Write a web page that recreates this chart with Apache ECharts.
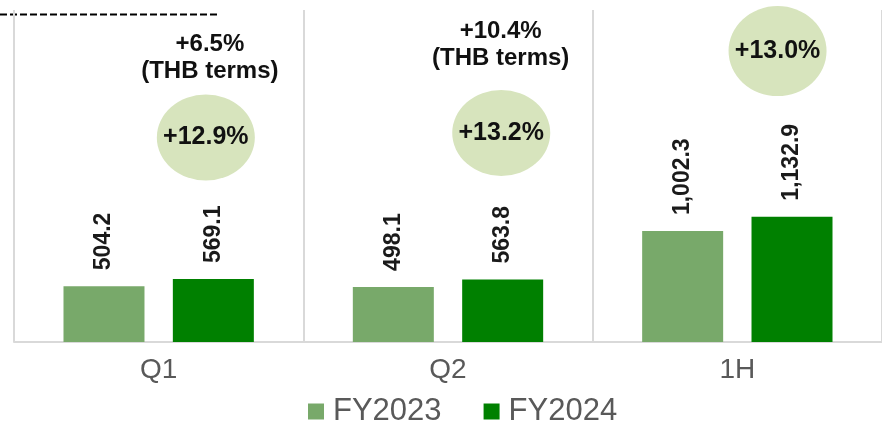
<!DOCTYPE html>
<html>
<head>
<meta charset="utf-8">
<script src="https://cdn.jsdelivr.net/npm/echarts@6/dist/echarts.min.js"></script>
<style>
  html, body { margin: 0; padding: 0; background: #fff; }
  #chart { width: 882px; height: 422px; }
</style>
</head>
<body>
<div id="chart"></div>
<script>
// categories and series
const categories = ["Q1", "Q2", "1H"];
const fy2023 = [504.2, 498.1, 1002.3];
const fy2024 = [569.1, 563.8, 1132.9];

// growth bubbles (x in category units 0..3, y in value units)
const bubbleX = [0.663, 1.684, 2.639];
const bubbleY = [1848, 1889, 2629];
const bubbleText = ["+12.9%", "+13.2%", "+13.0%"];

// THB notes above the bubbles
const noteX = [0.677, 1.682];
const noteY = [2571, 2684];
const noteText = ["+6.5%\n(THB terms)", "+10.4%\n(THB terms)"];

var dom = document.getElementById("chart");
var myChart = echarts.init(dom, null, { renderer: "canvas" });

const font = "'Liberation Sans', Arial, sans-serif";

function fmt(v) {
  return v.toLocaleString("en-US", { minimumFractionDigits: 1, maximumFractionDigits: 1 });
}

const barLabel = {
  show: true,
  position: "top",
  distance: 16,
  rotate: 90,
  align: "left",
  verticalAlign: "middle",
  fontFamily: font,
  fontSize: 23,
  fontWeight: "bold",
  color: "#1a1a1a",
  formatter: function (p) { return fmt(p.value); }
};

var option = {
  animation: false,
  textStyle: { fontFamily: font },
  grid: { left: 14, right: -5, top: 10, bottom: 80 },
  legend: {
    data: ["FY2023", "FY2024"],
    left: 303,
    top: 391,
    icon: "rect",
    itemWidth: 16,
    itemHeight: 16,
    itemGap: 42,
    textStyle: { fontFamily: font, fontSize: 31, color: "#595959", padding: [0, 0, 0, 4] }
  },
  xAxis: [
    {
      type: "category",
      data: categories,
      axisLine: { lineStyle: { color: "#D9D9D9", width: 2 } },
      axisTick: { show: false },
      axisLabel: { fontFamily: font, fontSize: 28, color: "#595959", margin: 14 },
      splitLine: { show: true, interval: 0, lineStyle: { color: "#D9D9D9", width: 2 } }
    },
    { type: "value", min: 0, max: 3, show: false }
  ],
  yAxis: {
    type: "value",
    min: 0,
    max: 3000,
    show: false,
    splitLine: { show: false }
  },
  graphic: [
    {
      type: "line",
      shape: { x1: 0, y1: 14.5, x2: 220, y2: 14.5 },
      style: { stroke: "#000", lineWidth: 2, lineDash: [7, 3] }
    }
  ],
  series: [
    {
      name: "FY2023",
      type: "bar",
      data: fy2023,
      barWidth: 81,
      barGap: "35%",
      itemStyle: { color: "#78A96A" },
      label: barLabel
    },
    {
      name: "FY2024",
      type: "bar",
      data: fy2024,
      barWidth: 81,
      itemStyle: { color: "#008000" },
      label: barLabel
    },
    {
      name: "growth",
      type: "scatter",
      xAxisIndex: 1,
      symbol: "circle",
      symbolSize: function (v, p) { return p.dataIndex === 2 ? [98, 90] : [98, 86]; },
      data: bubbleX.map((x, i) => [x, bubbleY[i]]),
      itemStyle: { color: "#D7E4BD", opacity: 1 },
      label: {
        show: true,
        position: "inside",
        fontFamily: font,
        fontSize: 25,
        fontWeight: "bold",
        color: "#111",
        formatter: function (p) { return bubbleText[p.dataIndex]; }
      },
      silent: true
    },
    {
      name: "notes",
      type: "scatter",
      xAxisIndex: 1,
      symbolSize: 1,
      data: noteX.map((x, i) => [x, noteY[i]]),
      itemStyle: { color: "#fff", opacity: 1 },
      label: {
        show: true,
        position: "inside",
        fontFamily: font,
        fontSize: 24,
        fontWeight: "bold",
        lineHeight: 27,
        align: "center",
        color: "#111",
        formatter: function (p) { return noteText[p.dataIndex]; }
      },
      silent: true
    }
  ]
};

myChart.setOption(option);
window.addEventListener("resize", myChart.resize);
</script>
</body>
</html>
